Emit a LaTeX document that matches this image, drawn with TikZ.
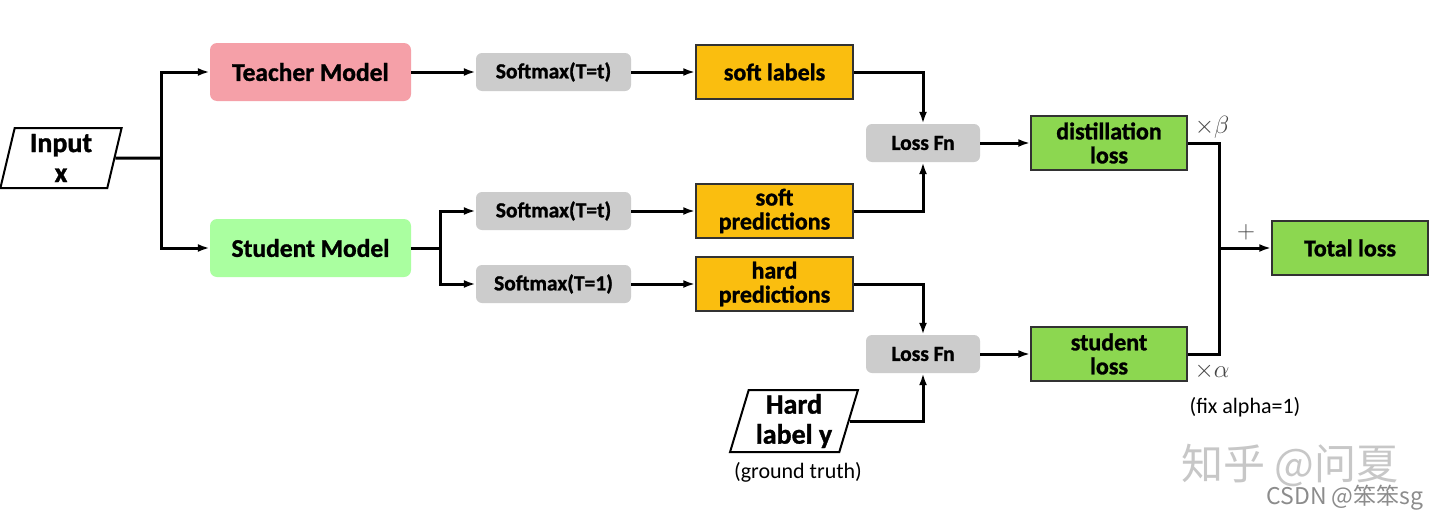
\documentclass[tikz,border=0pt]{standalone}
\usepackage{fontspec}
\setmainfont{Carlito}[BoldFeatures={FakeBold=1.2}]
\newfontfamily\cjkfont{Noto Sans CJK SC}
\usetikzlibrary{arrows.meta,shapes.geometric}
\definecolor{tpink}{RGB}{245,160,168}
\definecolor{sgreen}{RGB}{170,255,160}
\definecolor{sgray}{RGB}{204,204,204}
\definecolor{ygold}{RGB}{250,190,15}
\definecolor{lgreen}{RGB}{140,215,80}
\definecolor{bord}{RGB}{50,50,50}
\definecolor{mathgray}{RGB}{70,70,70}
\tikzset{
  conn/.style={line width=3pt, black},
  arr/.style={conn, -{Latex[length=12pt,width=8pt]}},
  modelbox/.style={rounded corners=7pt, inner sep=0pt, minimum width=201pt, minimum height=58pt, font=\fontsize{25.5}{27}\selectfont\bfseries},
  graybox/.style={fill=sgray, rounded corners=6pt, inner sep=0pt, minimum height=38pt, font=\fontsize{21.5}{23}\selectfont\bfseries},
  ybox/.style={fill=ygold, draw=bord, line width=1.5pt, inner sep=0pt, minimum width=157pt, minimum height=54pt, align=center, font=\fontsize{24}{24}\selectfont\bfseries},
  gbox/.style={fill=lgreen, draw=bord, line width=1.5pt, inner sep=0pt, minimum width=156pt, minimum height=54pt, align=center, font=\fontsize{24}{24}\selectfont\bfseries},
  para/.style={trapezium, draw=black, line width=2pt, fill=white, trapezium stretches=true, inner sep=0pt, align=center, font=\fontsize{28}{30}\selectfont\bfseries},
  note/.style={inner sep=0pt, font=\fontsize{22}{24}\selectfont},
  mlab/.style={inner sep=0pt, text=mathgray, font=\fontsize{32}{34}\selectfont},
}
\begin{document}
\begin{tikzpicture}[x=1pt,y=-1pt]
\useasboundingbox[fill=white] (0,0) rectangle (1440,525);
% nodes
\node[para, minimum width=122pt, minimum height=60pt, trapezium left angle=78.7, trapezium right angle=101.3] (in) at (61,158) {Input\\x};
\node[modelbox, fill=tpink] (teacher) at (310.5,72) {Teacher Model};
\node[modelbox, fill=sgreen] (student) at (310.5,248) {Student Model};
\node[graybox, minimum width=155pt] (sm1) at (553.5,72) {Softmax(T=t)};
\node[graybox, minimum width=155pt] (sm2) at (553.5,211) {Softmax(T=t)};
\node[graybox, minimum width=155pt] (sm3) at (553.5,284) {Softmax(T=1)};
\node[ybox] (softlab) at (774.5,72) {soft labels};
\node[ybox] (softpred) at (774.5,211) {soft\\predictions};
\node[ybox] (hardpred) at (774.5,284) {hard\\predictions};
\node[graybox, minimum width=114pt] (loss1) at (923,143) {Loss Fn};
\node[graybox, minimum width=114pt] (loss2) at (923,354) {Loss Fn};
\node[para, minimum width=128pt, minimum height=62pt, trapezium left angle=73.8, trapezium right angle=106.2] (hard) at (794,421) {Hard\\label y};
\node[note] (gt) at (798,472) {(ground truth)};
\node[gbox] (distill) at (1109,143) {distillation\\loss};
\node[gbox] (studloss) at (1109,354) {student\\loss};
\node[gbox] (total) at (1350,248) {Total loss};
\node[mlab] (beta) at (1212,127) {$\times\beta$};
\node[mlab] (alpha) at (1212,371) {$\times\alpha$};
\node[mlab] (plus) at (1246,232) {$+$};
\node[note] (fix) at (1245,407) {(fix alpha=1)};
% watermarks
\node[inner sep=0pt, text=black!22, font=\cjkfont\fontsize{42}{44}\selectfont] (wm1) at (1290,465) {知乎 @问夏};
\node[inner sep=0pt, text=black!45, font=\cjkfont\fontsize{23}{25}\selectfont] (wm2) at (1345,498) {CSDN @笨笨sg};
% split coordinates
\coordinate (s1) at (161,158);
\coordinate (s2) at (440,248);
\coordinate (sum) at (1219,248);
% connectors
\draw[conn] (in.east) -- (s1);
\draw[arr] (s1) |- (teacher.west);
\draw[arr] (s1) |- (student.west);
\draw[arr] (teacher.east) -- (sm1.west);
\draw[arr] (sm1.east) -- (softlab.west);
\draw[conn] (student.east) -- (s2);
\draw[arr] (s2) |- (sm2.west);
\draw[arr] (s2) |- (sm3.west);
\draw[arr] (sm2.east) -- (softpred.west);
\draw[arr] (sm3.east) -- (hardpred.west);
\draw[arr] (softlab.east) -| (loss1.north);
\draw[arr] (softpred.east) -| (loss1.south);
\draw[arr] (hardpred.east) -| (loss2.north);
\draw[arr] (hard.east) -| (loss2.south);
\draw[arr] (loss1.east) -- (distill.west);
\draw[arr] (loss2.east) -- (studloss.west);
\draw[conn] (distill.east) -| (sum);
\draw[conn] (studloss.east) -| (sum);
\draw[arr] (sum) -- (total.west);
\end{tikzpicture}
\end{document}
